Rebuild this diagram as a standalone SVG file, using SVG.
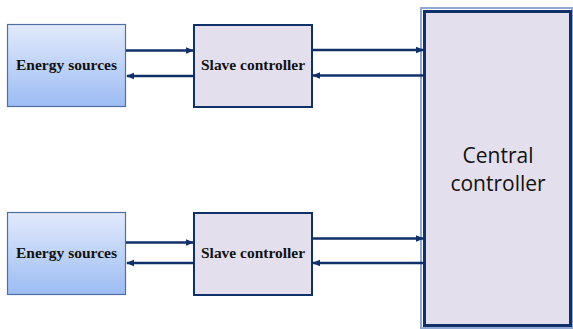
<svg xmlns="http://www.w3.org/2000/svg" width="573" height="329" viewBox="0 0 573 329">
<defs>
<linearGradient id="gES" x1="0" y1="0" x2="0" y2="1">
<stop offset="0" stop-color="#e2eafb"/>
<stop offset="1" stop-color="#9cbcf3"/>
</linearGradient>
<marker id="ah" markerWidth="8" markerHeight="8" refX="7" refY="4" orient="auto" markerUnits="userSpaceOnUse">
<path d="M0,0.8 L8,4 L0,7.2 Z" fill="#10306a"/>
</marker>
</defs>
<style>
.es{fill:url(#gES);stroke:#4f6fa3;stroke-width:1.2}
.sc{fill:#e4dfec;stroke:#10306a;stroke-width:2}
.cc{fill:#e4dfec;stroke:#10306a;stroke-width:3}
.cco{fill:none;stroke:#8fa9d4;stroke-width:2}
.lbl{font-family:"Liberation Serif",serif;font-weight:bold;font-size:15px;fill:#111;text-anchor:middle}
.big{font-family:"Open Sans","Liberation Sans",sans-serif;font-size:21px;fill:#111;text-anchor:middle}
.con line{stroke:#10306a;stroke-width:2.4;marker-end:url(#ah)}
</style>
<g id="es1"><rect class="es" x="7.5" y="24.5" width="118" height="82"/><text class="lbl" x="66.5" y="70" textLength="101" lengthAdjust="spacingAndGlyphs">Energy sources</text></g>
<g id="es2"><rect class="es" x="7.5" y="212.5" width="118" height="82"/><text class="lbl" x="66.5" y="258" textLength="101" lengthAdjust="spacingAndGlyphs">Energy sources</text></g>
<g id="sc1"><rect class="sc" x="194" y="25" width="118" height="82"/><text class="lbl" x="253" y="70" textLength="104" lengthAdjust="spacingAndGlyphs">Slave controller</text></g>
<g id="sc2"><rect class="sc" x="194" y="213" width="118" height="82"/><text class="lbl" x="253" y="258" textLength="104" lengthAdjust="spacingAndGlyphs">Slave controller</text></g>
<g id="cc"><rect class="cco" x="421" y="8" width="151" height="320"/><rect class="cc" x="424.5" y="11.5" width="146" height="314"/><text class="big" x="498" y="163">Central</text><text class="big" x="498" y="191">controller</text></g>
<g id="connectors" class="con">
<line x1="126" y1="50.5" x2="193" y2="50.5"/>
<line x1="194" y1="76" x2="127" y2="76"/>
<line x1="313" y1="50" x2="423" y2="50"/>
<line x1="423" y1="75.5" x2="313" y2="75.5"/>
<line x1="126" y1="242.5" x2="193" y2="242.5"/>
<line x1="194" y1="263" x2="127" y2="263"/>
<line x1="313" y1="238.5" x2="423" y2="238.5"/>
<line x1="423" y1="263" x2="313" y2="263"/>
</g>
</svg>
